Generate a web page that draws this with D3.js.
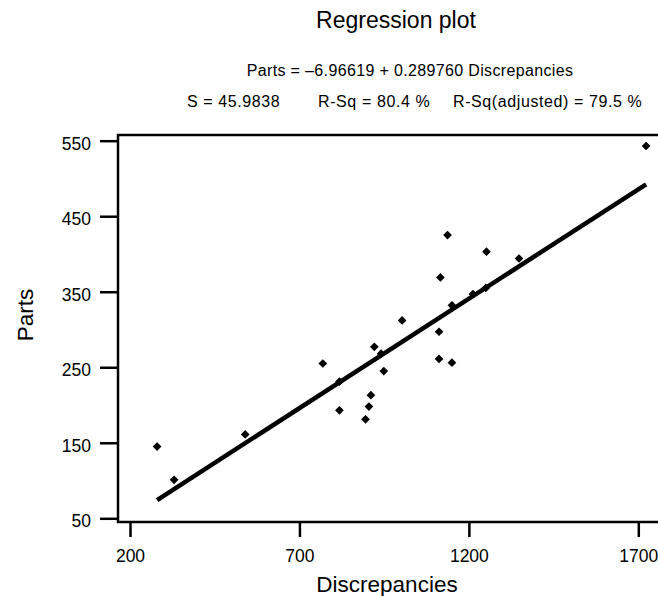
<!DOCTYPE html>
<html>
<head>
    <style>
        body {
            margin: 0;
            background: #fff;
        }
        svg text {
            font-family: "Liberation Sans", Arial, sans-serif;
            fill: #000;
        }
    </style>
</head>
<body>
    <svg width="658" height="596"></svg>

    <script src="https://d3js.org/d3.v7.min.js"></script>
    <script>
        // Data
        const discrepancies = [280, 330, 540, 769, 818, 818, 895, 905, 911, 921, 941, 949,
                               1003, 1112, 1112, 1116, 1137, 1150, 1150, 1212, 1250, 1252, 1348, 1723];
        const parts = [145, 101, 161, 255, 231, 193, 181, 198, 213, 277, 268, 245,
                       312, 297, 261, 369, 425, 256, 332, 347, 355, 403, 394, 543];

        // Fitted line
        const intercept = -6.96619;
        const slope = 0.289760;

        const xTicks = [200, 700, 1200, 1700];
        const yTicks = [50, 150, 250, 350, 450, 550];

        const title = "Regression plot";
        const equation = "Parts = \u20136.96619 + 0.289760 Discrepancies";
        const stats = ["S = 45.9838", "R-Sq = 80.4 %", "R-Sq(adjusted) = 79.5 %"];

        const svg = d3.select("svg"),
              width = +svg.attr("width"),
              height = +svg.attr("height");

        const frame = {left: 118, top: 135, bottom: 522, right: width};

        const x = d3.scaleLinear().domain([200, 1700]).range([130, 638.3]);
        const y = d3.scaleLinear().domain([50, 550]).range([518.3, 140.7]);

        // Frame (right side runs off the page, as in the scan)
        svg.append("path")
            .attr("d", `M${frame.right},${frame.top}H${frame.left}V${frame.bottom}H${frame.right}`)
            .attr("fill", "none")
            .attr("stroke", "#000")
            .attr("stroke-width", 2.5);

        // Axes
        const xAxis = svg.append("g")
            .attr("transform", `translate(0,${frame.bottom})`)
            .call(d3.axisBottom(x).tickValues(xTicks).tickSize(15).tickPadding(13).tickFormat(d3.format("d")));
        const yAxis = svg.append("g")
            .attr("transform", `translate(${frame.left},0)`)
            .call(d3.axisLeft(y).tickValues(yTicks).tickSize(18).tickPadding(9).tickFormat(d3.format("d")));

        [xAxis, yAxis].forEach(g => {
            g.select(".domain").remove();
            g.selectAll(".tick line").attr("stroke", "#000").attr("stroke-width", 2.5);
            g.selectAll(".tick text")
                .attr("font-size", 17.5)
                .attr("font-family", "Liberation Sans, Arial, sans-serif")
                .attr("fill", "#000");
        });
        yAxis.selectAll(".tick text").attr("dy", "0.48em");
        xAxis.selectAll(".tick text").attr("dy", "0.71em");

        // Regression line
        const [xmin, xmax] = d3.extent(discrepancies);
        svg.append("line")
            .attr("x1", x(xmin))
            .attr("y1", y(intercept + slope * xmin))
            .attr("x2", x(xmax))
            .attr("y2", y(intercept + slope * xmax))
            .attr("stroke", "#000")
            .attr("stroke-width", 4.5)
            .attr("stroke-linecap", "butt");

        // Points (small diamonds)
        const diamond = d3.symbol().type(d3.symbolSquare).size(38);
        svg.append("g")
            .selectAll("path")
            .data(discrepancies.map((d, i) => [d, parts[i]]))
            .join("path")
            .attr("d", diamond)
            .attr("transform", d => `translate(${x(d[0])},${y(d[1])}) rotate(45)`)
            .attr("fill", "#000");

        // Titles
        svg.append("text")
            .attr("x", 396).attr("y", 28)
            .attr("text-anchor", "middle")
            .attr("font-size", 23)
            .text(title);

        svg.append("text")
            .attr("x", 410).attr("y", 76)
            .attr("text-anchor", "middle")
            .attr("font-size", 16)
            .attr("letter-spacing", 0.35)
            .text(equation);

        const statX = [187, 318, 453];
        svg.append("g")
            .selectAll("text")
            .data(stats)
            .join("text")
            .attr("x", (d, i) => statX[i])
            .attr("y", 107)
            .attr("font-size", 16)
            .attr("letter-spacing", 0.6)
            .text(d => d);

        // Axis labels
        svg.append("text")
            .attr("x", 387).attr("y", 592)
            .attr("text-anchor", "middle")
            .attr("font-size", 22.5)
            .text("Discrepancies");

        svg.append("text")
            .attr("transform", "translate(33,315) rotate(-90)")
            .attr("text-anchor", "middle")
            .attr("font-size", 22.5)
            .text("Parts");
    </script>
</body>
</html>
